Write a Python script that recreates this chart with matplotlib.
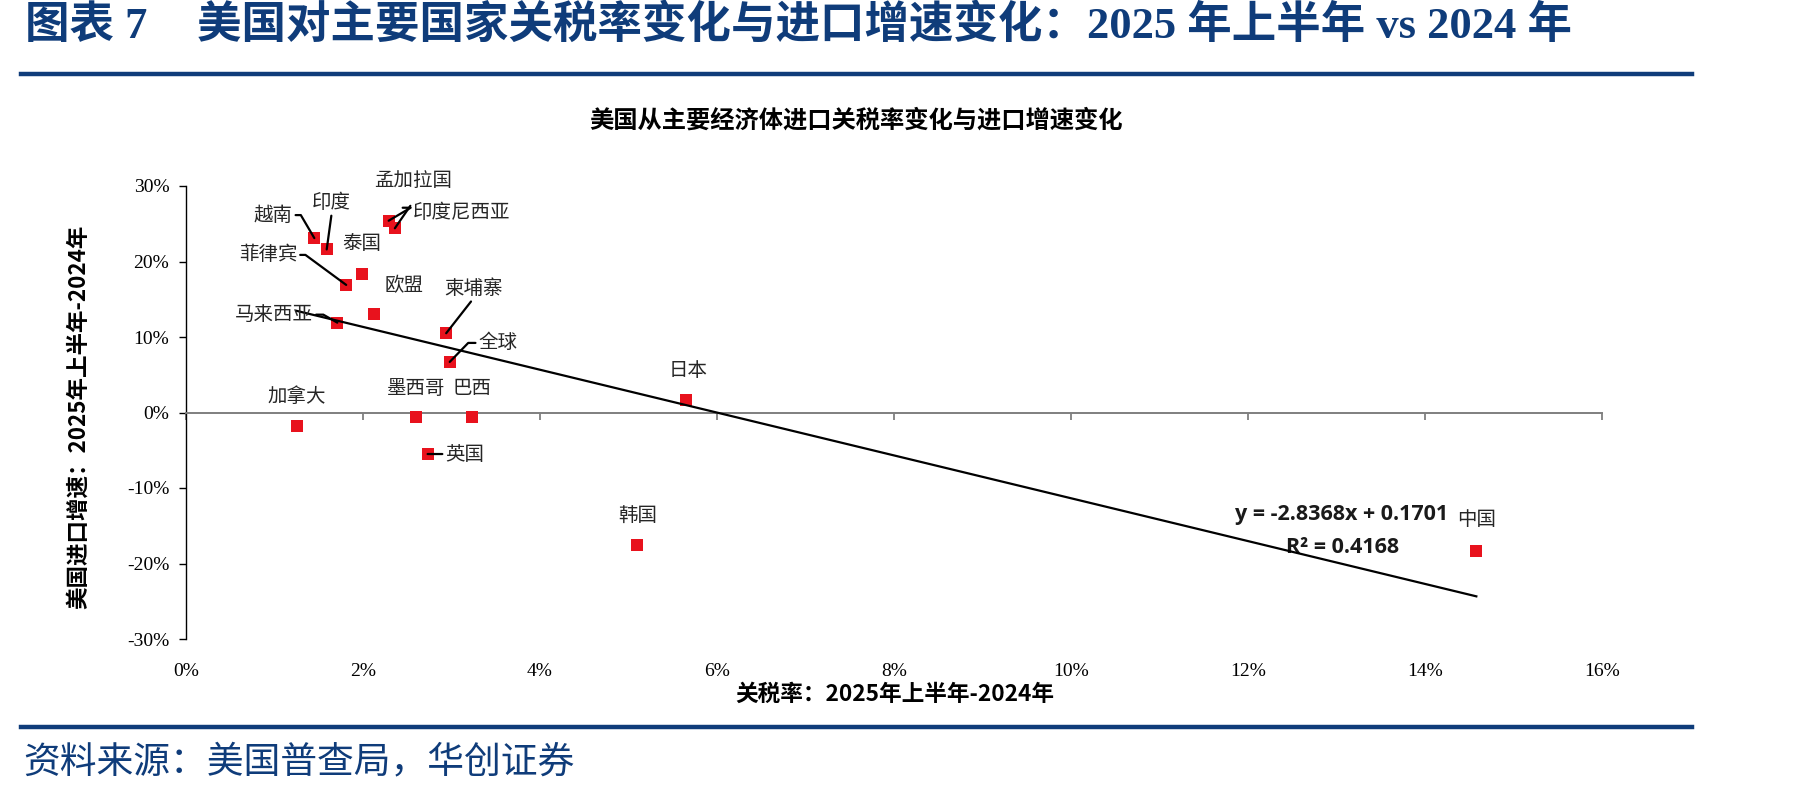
import numpy as np
import matplotlib
matplotlib.use('Agg')
import matplotlib.pyplot as plt
from matplotlib.lines import Line2D

plt.rcParams['font.family'] = ['Noto Sans CJK SC', 'DejaVu Sans']
plt.rcParams['axes.unicode_minus'] = False

# data: change in US tariff rate vs change in import growth (H1 2025 vs 2024)
names = ['越南', '印度', '菲律宾', '泰国', '欧盟', '马来西亚', '孟加拉国', '印度尼西亚',
         '柬埔寨', '全球', '加拿大', '墨西哥', '巴西', '英国', '日本', '韩国', '中国']
tariff_chg = [0.0145, 0.0159, 0.0181, 0.0199, 0.0212, 0.0171, 0.0229, 0.0236,
              0.0294, 0.0298, 0.0125, 0.0260, 0.0323, 0.0273, 0.0565, 0.0510, 0.1458]
import_chg = [0.231, 0.216, 0.169, 0.183, 0.131, 0.119, 0.254, 0.244,
              0.105, 0.067, -0.0185, -0.006, -0.006, -0.055, 0.016, -0.175, -0.183]
slope = -2.8368
intercept = 0.1701
r2 = 0.4168
x_ticks = [0, 0.02, 0.04, 0.06, 0.08, 0.10, 0.12, 0.14, 0.16]
y_ticks = [-0.3, -0.2, -0.1, 0, 0.1, 0.2, 0.3]

# label placement: offset in pixels from the point, leader (relpos, angleA, armA) or None
label_layout = {
    '越南': ((-41, 23), ((1, 0.5), 0, 8)),
    '印度': ((5, 47), ((0.5, 0), 0, 0)),
    '菲律宾': ((-78, 30), ((1, 0.5), 0, 8)),
    '泰国': ((0, 31), None),
    '欧盟': ((30, 28), None),
    '马来西亚': ((-63, 8), ((1, 0.5), 0, 10)),
    '孟加拉国': ((24, 40), None),
    '印度尼西亚': ((67, 16), ((0, 1), 0, 0)),
    '柬埔寨': ((27, 45), ((0.5, 0), 0, 0)),
    '全球': ((48, 19), ((0, 0.5), 180, 10)),
    '加拿大': ((0, 30), None),
    '墨西哥': ((0, 29), None),
    '巴西': ((0, 29), None),
    '英国': ((37, 0), ((0, 0.5), 0, 0)),
    '日本': ((2, 30), None),
    '韩国': ((0, 29), None),
    '中国': ((0, 31), None),
}

navy = '#0F3C7A'
red = '#E8121D'

fig = plt.figure(figsize=(18.01, 7.96), dpi=100)
ax = fig.add_axes([186 / 1801, 1 - 639 / 796, (1602 - 186) / 1801, (639 - 186) / 796])

ax.scatter(tariff_chg, import_chg, marker='s', s=68, color=red, zorder=3, linewidths=0)

# linear trend line over the range of the data
x_fit = np.array([min(tariff_chg), max(tariff_chg)])
ax.plot(x_fit, slope * x_fit + intercept, color='black', lw=1.6, zorder=4)

for name, x, y in zip(names, tariff_chg, import_chg):
    (dx, dy), leader = label_layout[name]
    if leader is None:
        ax.annotate(name, (x, y), xytext=(dx, dy), textcoords='offset pixels',
                    ha='center', va='center', fontsize=14, color='#262626')
    else:
        relpos, angle, arm = leader
        if arm:
            cs = f'arc,angleA={angle},armA={arm},angleB=0,armB=0,rad=0'
        else:
            cs = 'arc3,rad=0'
        ax.annotate(name, (x, y), xytext=(dx, dy), textcoords='offset pixels',
                    ha='center', va='center', fontsize=14, color='#262626',
                    arrowprops=dict(arrowstyle='-', color='black', lw=1.6,
                                    relpos=relpos, connectionstyle=cs,
                                    shrinkA=0, shrinkB=0), zorder=5)

# small leader for 孟加拉国
i = names.index('孟加拉国')
ax.annotate('', (tariff_chg[i], import_chg[i]), xytext=(14, 13), textcoords='offset pixels',
            arrowprops=dict(arrowstyle='-', color='black', lw=1.6, shrinkA=0, shrinkB=0,
                            connectionstyle='arc,angleA=0,armA=8,angleB=0,armB=0,rad=0'))

ax.text(0.1306, -0.135, f'y = {slope:.4f}x + {intercept:.4f}', ha='center', va='center',
        fontsize=15.5, fontweight='bold', family=['Open Sans', 'DejaVu Sans'], color='#1a1a1a')
ax.text(0.1307, -0.179, f'R² = {r2:.4f}', ha='center', va='center',
        fontsize=15.5, fontweight='bold', family=['Open Sans', 'DejaVu Sans'], color='#1a1a1a')

ax.set_xlim(0, 0.16)
ax.set_ylim(-0.3, 0.3)
for s in ['top', 'right']:
    ax.spines[s].set_visible(False)
ax.spines['left'].set_linewidth(1.0)
ax.spines['bottom'].set_position(('data', 0))
ax.spines['bottom'].set_color('#7F7F7F')
ax.spines['bottom'].set_linewidth(1.4)

ax.set_yticks(y_ticks)
ax.set_yticklabels([f'{v * 100:.0f}%' for v in y_ticks], family='Liberation Serif', fontsize=14)
ax.tick_params(axis='y', direction='out', length=5, width=1.0, pad=7)

ax.set_xticks(x_ticks)
ax.tick_params(axis='x', direction='out', length=5, width=1.3, color='#7F7F7F', labelbottom=False)

sec = ax.secondary_xaxis('bottom')
sec.set_xticks(x_ticks)
sec.set_xticklabels([f'{v * 100:.0f}%' for v in x_ticks], family='Liberation Serif', fontsize=14)
sec.tick_params(length=0, pad=17)
sec.spines['bottom'].set_visible(False)

fig.text(78 / 1801, 1 - 417 / 796, '美国进口增速：2025年上半年-2024年', rotation=90,
         ha='center', va='center', fontsize=16.2, fontweight='bold')
fig.text(895 / 1801, 1 - 694 / 796, '关税率：2025年上半年-2024年',
         ha='center', va='center', fontsize=16.3, fontweight='bold')
fig.text(856 / 1801, 1 - 121 / 796, '美国从主要经济体进口关税率变化与进口增速变化',
         ha='center', va='center', fontsize=17.5, fontweight='bold')

# report header / footer
head_font = ['Liberation Serif', 'Noto Sans CJK SC']
fig.text(25 / 1801, 1 - 26 / 796, '图表 7', ha='left', va='center', fontsize=32,
         fontweight='bold', color=navy, family=head_font)
fig.text(197 / 1801, 1 - 26 / 796,
         '美国对主要国家关税率变化与进口增速变化：2025 年上半年 vs 2024 年',
         ha='left', va='center', fontsize=32, fontweight='bold', color=navy, family=head_font)
fig.add_artist(Line2D([21 / 1801, 1692 / 1801], [1 - 74 / 796, 1 - 74 / 796],
                      color=navy, lw=3.2, transform=fig.transFigure))
fig.add_artist(Line2D([21 / 1801, 1692 / 1801], [1 - 727 / 796, 1 - 727 / 796],
                      color=navy, lw=3.2, transform=fig.transFigure))
fig.text(23 / 1801, 1 - 762 / 796, '资料来源：美国普查局，华创证券',
         ha='left', va='center', fontsize=26.5, color=navy)

fig.savefig('out.png', dpi=100)
